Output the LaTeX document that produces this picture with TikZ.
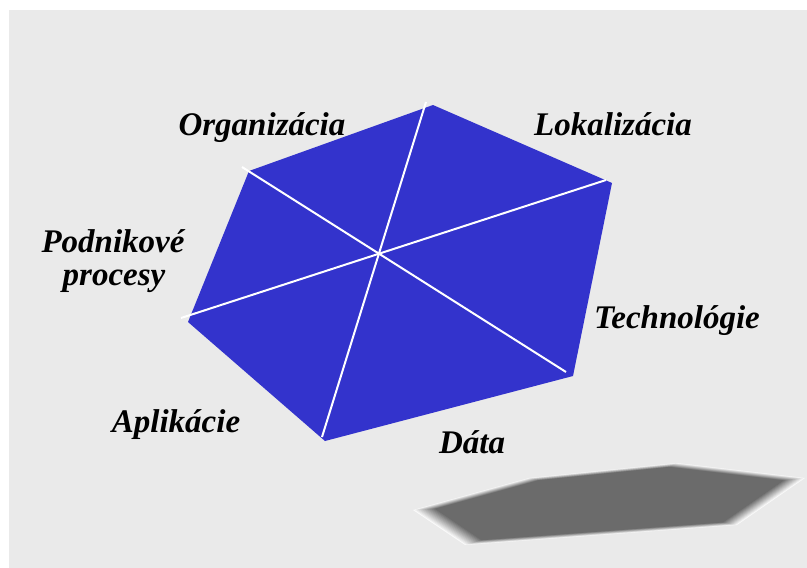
\documentclass[tikz,border=0pt]{standalone}
\usepackage{fontspec}
\setmainfont{Liberation Serif}
\definecolor{bgcol}{HTML}{EAEAEA}
\definecolor{hexblue}{HTML}{3333CC}
\begin{document}
\begin{tikzpicture}[x=1pt,y=-1pt,
  lbl/.style={font=\fontsize{33}{35}\selectfont\bfseries\itshape, anchor=base, inner sep=0pt, text=black},
  spoke/.style={draw=white, line width=2pt}]
\useasboundingbox (0,0) rectangle (807,568);
\fill[bgcol] (9,10) rectangle (807,568);
% shadow
\foreach \i in {0,...,16}{
  \pgfmathsetmacro{\s}{1-0.0085*\i}
  \pgfmathsetmacro{\k}{2+56*min(1,\i/13)}
  \begin{scope}[shift={(612,500)}, scale=\s]
    \fill[black!\k!white] (-199,10) -- (-83,-22) -- (65,-37) -- (193,-22) -- (125,25) -- (-147,45) -- cycle;
  \end{scope}
}
% hexagon
\coordinate (t) at (433,105);
\coordinate (tr) at (612,183);
\coordinate (br) at (573,376);
\coordinate (b) at (325,441);
\coordinate (l) at (188,322);
\coordinate (tl) at (249,171);
\fill[hexblue] (t) -- (tr) -- (br) -- (b) -- (l) -- (tl) -- cycle;
\coordinate (et) at (426,102);
\coordinate (eb) at (322,437);
\coordinate (etl) at (242,167);
\coordinate (ebr) at (566,372);
\coordinate (el) at (181,318);
\coordinate (etr) at (606,180);
\draw[spoke] (et) -- (eb);
\draw[spoke] (etl) -- (ebr);
\draw[spoke] (el) -- (etr);
% labels
\node[lbl] (org) at (262,135) {Organizácia};
\node[lbl] (lok) at (613,135) {Lokalizácia};
\node[lbl] (pod1) at (113,252) {Podnikové};
\node[lbl] (pod2) at (114,285) {procesy};
\node[lbl] (tech) at (677,328) {Technológie};
\node[lbl] (apl) at (176,432) {Aplikácie};
\node[lbl] (dat) at (472,453) {Dáta};
\end{tikzpicture}
\end{document}
